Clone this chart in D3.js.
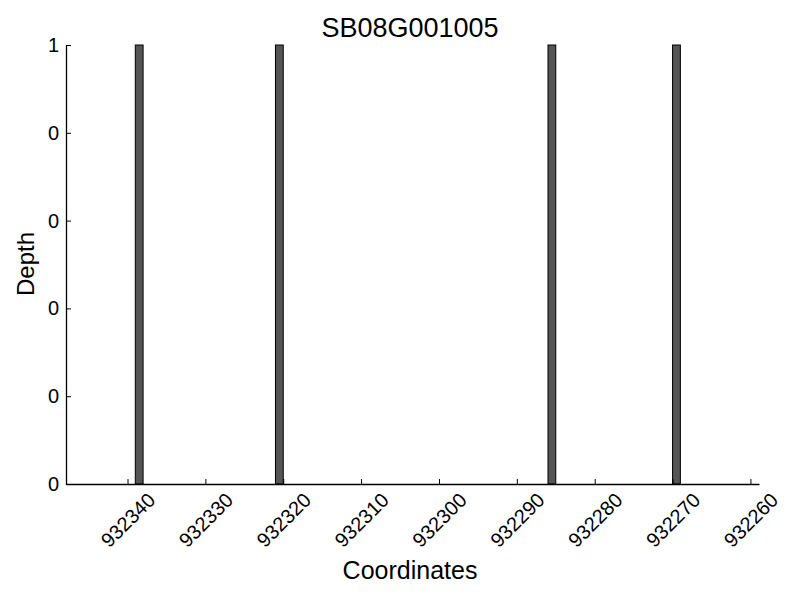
<!DOCTYPE html>
<html>
<head>
<meta charset="utf-8">
<script src="https://cdn.jsdelivr.net/npm/d3@7"></script>
<style>
  body { margin: 0; background: #fff; }
  text { font-family: "Liberation Sans", Arial, sans-serif; fill: #000; }
</style>
</head>
<body>
<div id="chart"></div>
<script>
var title = "SB08G001005";
var coords = [932338, 932320, 932285, 932269];   // left edge of each 1bp bar
var depth = [1, 1, 1, 1];
var xTicks = [932340, 932330, 932320, 932310, 932300, 932290, 932280, 932270, 932260];
var yTicks = [0, 0.2, 0.4, 0.6, 0.8, 1];

var width = 800, height = 600;
var margin = { left: 66, right: 41, top: 45, bottom: 116 };

var svg = d3.select("#chart").append("svg")
    .attr("width", width)
    .attr("height", height);

var g = svg.append("g")
    .attr("transform", "translate(" + margin.left + "," + margin.top + ")");

var w = width - margin.left - margin.right;
var h = height - margin.top - margin.bottom;

// axis is reversed: high coordinates on the left
var x = d3.scaleLinear().domain([932347.9, 932258.9]).range([0, w]);
var y = d3.scaleLinear().domain([0, 1]).range([h, 0]);

// bars
g.selectAll("rect.bar")
    .data(coords)
    .enter().append("rect")
    .attr("class", "bar")
    .attr("x", function (d) { return x(d + 1); })
    .attr("width", function (d) { return x(d) - x(d + 1); })
    .attr("y", function (d, i) { return y(depth[i]); })
    .attr("height", function (d, i) { return h - y(depth[i]); })
    .attr("fill", "#555555")
    .attr("stroke", "#000")
    .attr("stroke-width", 1);

// x axis, ticks pointing inward
var xAxis = g.append("g")
    .attr("transform", "translate(0," + h + ")")
    .attr("font-size", 20)
    .call(d3.axisBottom(x).tickValues(xTicks).tickFormat(d3.format("d"))
        .tickSizeInner(-5).tickSizeOuter(0));

xAxis.selectAll("text")
    .attr("font-size", 20)
    .attr("y", 0)
    .attr("dy", "0.35em")
    .attr("text-anchor", "middle")
    .attr("transform", "translate(0,36) rotate(-45)");

// y axis, labels truncated to int like the original
var yAxis = g.append("g")
    .attr("font-size", 20)
    .call(d3.axisLeft(y).tickValues(yTicks).tickFormat(function (d) { return String(Math.floor(d)); })
        .tickSizeInner(-5).tickSizeOuter(0));

yAxis.selectAll("text")
    .attr("font-size", 20)
    .attr("x", -7);

g.selectAll(".domain").attr("stroke", "#000").attr("stroke-width", 1.3);
g.selectAll(".tick line").attr("stroke", "#000");

// title and labels
svg.append("text")
    .attr("x", 410)
    .attr("y", 37)
    .attr("text-anchor", "middle")
    .attr("font-size", 27)
    .text(title);

svg.append("text")
    .attr("x", 410)
    .attr("y", 579)
    .attr("text-anchor", "middle")
    .attr("font-size", 25)
    .text("Coordinates");

svg.append("text")
    .attr("transform", "translate(34,264) rotate(-90)")
    .attr("text-anchor", "middle")
    .attr("font-size", 24)
    .text("Depth");
</script>
</body>
</html>
